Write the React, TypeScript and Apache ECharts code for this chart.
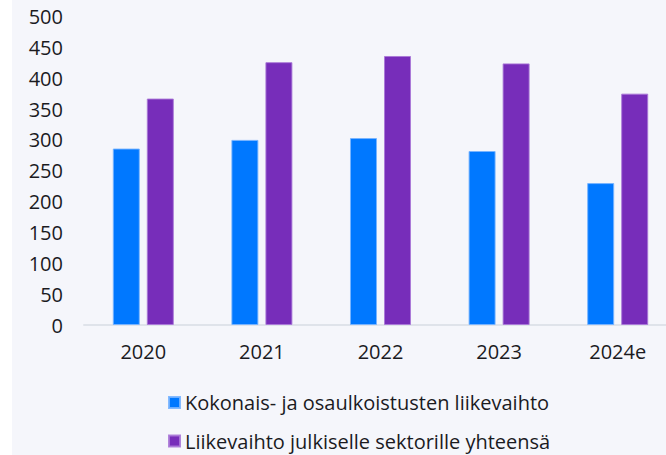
import React, { useEffect, useRef } from "react";
import * as echarts from "echarts";

const categories = ["2020", "2021", "2022", "2023", "2024e"];
const seriesNames = [
  "Kokonais- ja osaulkoistusten liikevaihto",
  "Liikevaihto julkiselle sektorille yhteensä",
];
const outsourcingRevenue = [286, 300, 303, 282, 230];
const publicSectorRevenue = [367, 426, 436, 424, 375];

const FONT = "'Open Sans', sans-serif";
const TEXT = "#1b1b1f";

export default function App() {
  const ref = useRef<HTMLDivElement>(null);
  useEffect(() => {
    if (!ref.current) return;
    const chart = echarts.init(ref.current, undefined, { renderer: "svg" });
    const legendBase = {
      orient: "horizontal",
      left: 168,
      padding: 0,
      itemWidth: 11,
      itemHeight: 11,
      icon: "rect",
      textStyle: { fontFamily: FONT, fontSize: 20, color: TEXT, lineHeight: 20 },
    };
    chart.setOption({
      animation: false,
      backgroundColor: "transparent",
      textStyle: { fontFamily: FONT },
      grid: {
        left: 84,
        right: -11,
        top: 16.5,
        bottom: 130,
        containLabel: false,
        outerBoundsMode: "none",
      },
      legend: [
        { ...legendBase, top: 392.5, data: [seriesNames[0]] },
        { ...legendBase, top: 431, data: [seriesNames[1]] },
      ],
      xAxis: {
        type: "category",
        data: categories,
        axisLine: { show: true, lineStyle: { color: "#dfe3ea", width: 2 } },
        axisTick: { show: false },
        axisLabel: { color: TEXT, fontSize: 20, fontFamily: FONT, margin: 16 },
      },
      yAxis: {
        type: "value",
        min: 0,
        max: 500,
        interval: 50,
        axisLine: { show: false },
        axisTick: { show: false },
        splitLine: { show: false },
        axisLabel: { color: TEXT, fontSize: 20, fontFamily: FONT, margin: 21 },
      },
      series: [
        {
          name: seriesNames[0],
          type: "bar",
          data: outsourcingRevenue,
          barWidth: 27,
          barGap: "26%",
          itemStyle: { color: "#0078FF", borderColor: "rgba(120,180,255,0.9)", borderWidth: 1 },
        },
        {
          name: seriesNames[1],
          type: "bar",
          data: publicSectorRevenue,
          barWidth: 27,
          barGap: "26%",
          itemStyle: { color: "#772DBA", borderColor: "rgba(170,120,215,0.9)", borderWidth: 1 },
        },
      ],
    });
    return () => chart.dispose();
  }, []);
  return (
    <div style={{ position: "fixed", left: 0, top: 0, width: 666, height: 455, background: "#ffffff", overflow: "hidden" }}>
      <div style={{ position: "absolute", left: 12, top: 0, width: 654, height: 455, background: "#f5f6fb" }} />
      <div ref={ref} style={{ position: "absolute", left: 0, top: 0, width: 666, height: 455 }} />
    </div>
  );
}
